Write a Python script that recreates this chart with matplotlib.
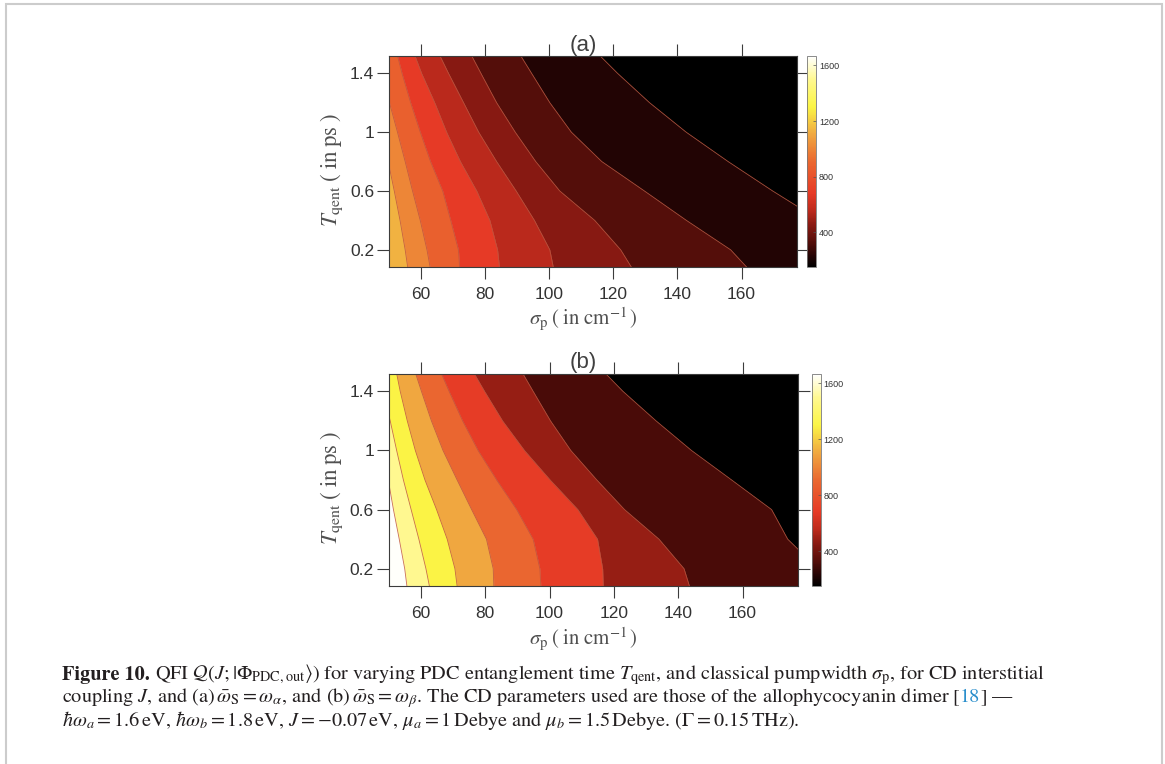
"""QFI vs PDC entanglement time and pump width: two filled-contour panels + caption."""
import matplotlib
matplotlib.use("Agg")
import matplotlib.pyplot as plt
from matplotlib.cm import ScalarMappable
from matplotlib.colors import LinearSegmentedColormap, Normalize
from matplotlib.patches import Rectangle

plt.rcParams["mathtext.fontset"] = "stix"

# rows of the contour edges (T_qent in ps)
T_ps = [0.08, 0.2, 0.4, 0.6, 0.8, 1.0, 1.2, 1.4, 1.52]

# panel (a): sigma_p (cm^-1) of each contour edge at the T_ps rows, bright -> dark
edge_a1 = [55.9, 55.1, 53.5, 51.7, 49.8, 47.9, 46.0, 44.1, 43.0]
edge_a2 = [62.9, 61.9, 59.8, 57.4, 55.1, 52.7, 50.2, 47.8, 46.3]
edge_a3 = [72.1, 71.7, 69.3, 66.8, 63.0, 59.8, 56.8, 54.1, 52.7]
edge_a4 = [84.5, 83.9, 81.5, 77.4, 72.3, 68.0, 64.3, 60.2, 58.1]
edge_a5 = [101.3, 100.2, 95.4, 89.7, 83.6, 78.0, 73.3, 68.6, 65.9]
edge_a6 = [125.7, 122.3, 114.2, 103.3, 95.8, 89.4, 83.6, 78.7, 75.8]
edge_a7 = [161.7, 156.6, 142.8, 129.7, 116.4, 106.9, 100.2, 94.5, 91.1]
edge_a8 = [208.0, 199.0, 184.4, 169.7, 155.8, 142.7, 131.3, 121.3, 115.8]
# QFI of each band
band_a = [1130, 1000, 870, 680, 550, 450, 330, 225, 150]

# panel (b)
edge_b1 = [55.7, 55.0, 53.3, 51.5, 49.9, 48.2, 46.0, 44.0, 43.0]
edge_b2 = [62.7, 61.6, 59.4, 57.0, 54.6, 52.5, 50.5, 48.2, 46.9]
edge_b3 = [71.3, 70.6, 68.2, 64.9, 61.3, 58.3, 55.8, 53.6, 52.5]
edge_b4 = [82.7, 82.5, 80.4, 75.8, 71.3, 66.9, 63.3, 60.2, 58.4]
edge_b5 = [97.3, 97.0, 94.9, 89.8, 83.6, 77.8, 73.0, 68.8, 66.4]
edge_b6 = [116.7, 116.5, 114.9, 108.8, 100.2, 92.2, 85.4, 79.8, 76.6]
edge_b7 = [143.5, 141.8, 134.0, 123.3, 114.7, 106.6, 100.3, 94.9, 91.7]
edge_b8 = [188.8, 183.4, 174.0, 169.0, 156.6, 144.1, 133.1, 122.8, 117.4]
band_b = [1660, 1500, 1300, 1100, 900, 690, 480, 310, 150]

x_ticks = [60, 80, 100, 120, 140, 160]
y_ticks = [0.2, 0.6, 1, 1.4]
y_ticklabels = ["0.2", "0.6", "1", "1.4"]
cbar_ticks = [400, 800, 1200, 1600]
qfi_range = (150, 1668)

# MATLAB-ish "hot" as it renders in the paper
hot = LinearSegmentedColormap.from_list("hot_print", [
    (0.00, "#000000"), (0.05, "#240404"), (0.12, "#560e0a"), (0.20, "#8a1a12"),
    (0.265, "#bc2a1c"), (0.35, "#e63a26"), (0.50, "#ea6830"), (0.63, "#f0a840"),
    (0.76, "#fbf545"), (0.89, "#fff890"), (1.00, "#ffffff")])
norm = Normalize(*qfi_range)

AX_COL = "#3c3c3c"
TICK_FONT = "Liberation Sans"


def panel(ax_rect, cax_rect, edges, bands, tag):
    ax = fig.add_axes(ax_rect)
    lefts = [[0] * len(T_ps)] + edges
    rights = edges + [[300] * len(T_ps)]
    for lo, hi, v in zip(lefts, rights, bands):
        c = hot(norm(v))
        ax.fill_betweenx(T_ps, lo, hi, facecolor=c, edgecolor=c, lw=0.3)
    for e in edges:
        ax.plot(e, T_ps, color="#c0563e", lw=0.6, alpha=0.85)
    ax.set_xlim(50, 177.3)
    ax.set_ylim(0.083, 1.517)
    ax.set_xticks(x_ticks)
    ax.set_yticks(y_ticks)
    ax.set_yticklabels(y_ticklabels)
    ax.tick_params(direction="out", length=8.6, width=0.8, color=AX_COL,
                   top=True, right=True, labelsize=12.5, labelcolor="#333333")
    ax.tick_params(axis="x", pad=6)
    ax.tick_params(axis="y", pad=2)
    for lab in ax.get_xticklabels() + ax.get_yticklabels():
        lab.set_family(TICK_FONT)
    for sp in ax.spines.values():
        sp.set_color(AX_COL)
        sp.set_linewidth(0.8)
    ax.set_xlabel(r"$\sigma_{\rm p}\;(\;\mathrm{in\;cm}^{-1}\,)$", fontsize=15,
                  color="#505050", ha="center", va="center")
    ax.xaxis.set_label_coords(0.476, -0.246)
    ax.set_ylabel(r"$T_{\rm qent}\;(\;\mathrm{in\;ps}\;)$", fontsize=16.5,
                  color="#505050", ha="center", va="center", rotation=90)
    ax.yaxis.set_label_coords(-0.139, 0.46)
    ax.text(0.476, 1.052, tag, transform=ax.transAxes, ha="center", va="center",
            fontsize=16, family=TICK_FONT, color="#404040")

    cax = fig.add_axes(cax_rect)
    cb = fig.colorbar(ScalarMappable(norm=norm, cmap=hot), cax=cax)
    cb.set_ticks(cbar_ticks)
    cb.ax.tick_params(direction="in", length=2.5, width=0.5, labelsize=6.5,
                      pad=2, color="#555555", labelcolor="#333333")
    for lab in cb.ax.get_yticklabels():
        lab.set_family(TICK_FONT)
    cb.outline.set_linewidth(0.6)
    cb.outline.set_edgecolor("#777777")
    return ax


fig = plt.figure(figsize=(11.65, 7.64), dpi=100)
W, H = 1165.0, 764.0

panel([388.8 / W, 1 - 267 / H, 408.2 / W, 211 / H],
      [806.7 / W, 1 - 267 / H, 9.5 / W, 211 / H],
      [edge_a1, edge_a2, edge_a3, edge_a4, edge_a5, edge_a6, edge_a7, edge_a8],
      band_a, "(a)")
panel([388.6 / W, 1 - 586 / H, 409.7 / W, 212 / H],
      [811.5 / W, 1 - 586 / H, 9.5 / W, 212 / H],
      [edge_b1, edge_b2, edge_b3, edge_b4, edge_b5, edge_b6, edge_b7, edge_b8],
      band_b, "(b)")

# page frame
fig.patches.append(Rectangle((5.5 / W, -0.05), (1161.5 - 5.5) / W, 1.05 - 3.5 / H,
                             transform=fig.transFigure, fill=False,
                             edgecolor="#cccccc", lw=1.5))

# caption, laid out piece by piece (bold lead-in, blue reference)
CAP = 14.6
TXT = "#231f20"
caption = [
    (679.5, [("Figure 10.", dict(weight="bold"), 0),
             (r"QFI $\mathcal{Q}(J;|\Phi_{\rm PDC,out}\rangle)$ for varying PDC entanglement "
              r"time $T_{\rm qent}$, and classical pumpwidth $\sigma_{\rm p}$, for CD interstitial",
              {}, 0.25)]),
    (702.5, [(r"coupling $J$, and (a)$\,\bar{\omega}_{\rm S}=\omega_{\alpha}$, and "
              r"(b)$\,\bar{\omega}_{\rm S}=\omega_{\beta}$. The CD parameters used are those "
              r"of the allophycocyanin dimer", {}, 0),
             ("[", {}, 0.12),
             ("18", dict(color="#2b8fcc"), 0.02),
             ("]", {}, 0.02),
             ("\u2014", {}, 0.25)]),
    (725.5, [(r"$\hbar\omega_a=1.6\,$eV, $\hbar\omega_b=1.8\,$eV, $J=-0.07\,$eV, "
              r"$\mu_a=1\,$Debye and $\mu_b=1.5\,$Debye. ($\Gamma=0.15\,$THz).", {}, 0)]),
]
renderer = fig.canvas.get_renderer()
for y_px, pieces in caption:
    x = 62.0
    for s, kw, gap in pieces:
        x += gap * CAP * 100 / 72
        kw = dict(kw)
        kw.setdefault("color", TXT)
        t = fig.text(x / W, 1 - y_px / H, s, fontsize=CAP, family="STIXGeneral",
                     va="baseline", ha="left", **kw)
        x += t.get_window_extent(renderer).width

fig.savefig("out.png", dpi=100)
